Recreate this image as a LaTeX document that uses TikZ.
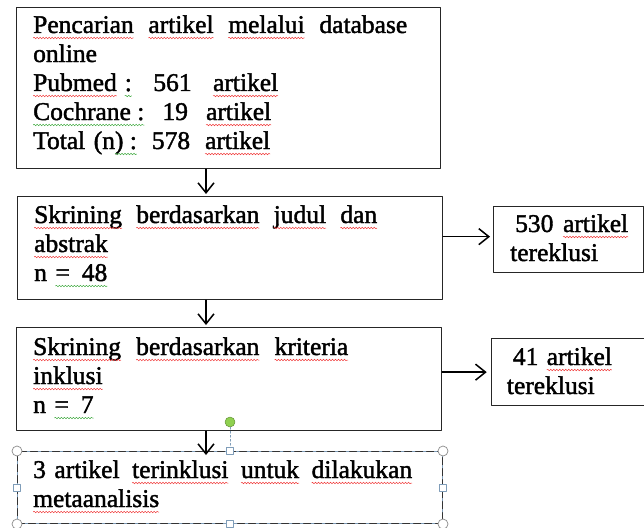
\documentclass[tikz,border=0pt]{standalone}
\usepackage{fontspec}
\setmainfont{Liberation Serif}[BoldFont=Liberation Serif,BoldFeatures={FakeBold=1.6}]
\usetikzlibrary{arrows.meta,decorations.pathmorphing}
\definecolor{bingkai}{HTML}{7F9DB9}
\definecolor{hijau}{HTML}{8FD050}
\definecolor{merah}{HTML}{F03C3C}
\definecolor{hijaueja}{HTML}{3FA93F}
% garis berombak di bawah kata
\newcommand{\garisbawah}[2]{\tikz[baseline=(kata.base)]{\node[inner sep=0pt,outer sep=0pt] (kata) {#2};
  \draw[overlay,#1,line width=0.5pt,decorate,decoration={snake,amplitude=0.8pt,segment length=3pt}] ([yshift=-5pt]kata.base west) -- ([yshift=-5pt]kata.base east);}}
\newcommand{\salah}[1]{\garisbawah{merah}{#1}}
\newcommand{\tata}[1]{\garisbawah{hijaueja}{#1}}
\tikzset{
  kotak/.style={draw=black!85,line width=1.3pt,inner sep=0pt,anchor=north west},
  pilih/.style={draw=black!80,line width=1pt,dash pattern=on 7pt off 4pt,preaction={draw=bingkai,line width=0.7pt,solid}},
  tulisan/.style={inner sep=0pt,anchor=base west,align=left,font=\fontsize{25.5}{29}\bfseries},
  panah/.style={-{Straight Barb[length=10pt,width=16pt]},line width=1.5pt},
  bulat/.style={circle,draw=black!45,fill=white,line width=0.7pt,minimum size=10pt,inner sep=0pt},
  persegi/.style={rectangle,draw=bingkai,fill=white,line width=0.7pt,minimum size=7pt,inner sep=0pt},
  putar/.style={circle,draw=hijau!70!black,fill=hijau,line width=0.5pt,minimum size=10pt,inner sep=0pt}
}
\begin{document}
\begin{tikzpicture}[line cap=round,line join=round,x=1pt,y=-1pt]
\useasboundingbox (0,0) rectangle (644,527);
% kotak-kotak
\node[kotak,minimum width=424,minimum height=161] (cari) at (16,7) {};
\node[kotak,minimum width=425,minimum height=103] (judul) at (17,196) {};
\node[kotak,minimum width=425,minimum height=103] (kriteria) at (16,327) {};
\node[kotak,pilih,minimum width=425,minimum height=72] (hasil) at (17,451) {};
\node[kotak,minimum width=150,minimum height=66] (eks1) at (493,206) {};
\node[kotak,minimum width=155,minimum height=67] (eks2) at (490.7,338) {};
% isi
\node[tulisan,text width=392pt] (tcari) at ([shift={(17,26)}]cari.north west)
  {\makebox[374pt][s]{\salah{Pencarian}\hfill\salah{artikel}\hfill\salah{melalui}\hfill database}\\
   online\\
   \makebox[245pt][s]{\salah{Pubmed}\hspace{8pt}\tata{:}\hfill 561\hfill\salah{artikel}}\\
   \makebox[238pt][s]{\tata{Cochrane :}\hfill 19\hfill\salah{artikel}}\\
   \makebox[237pt][s]{Total (n\tata{)\ :}\hfill 578\hfill\salah{artikel}}};
\node[tulisan,text width=392pt] (tjudul) at ([shift={(17,27)}]judul.north west)
  {\makebox[343pt][s]{\salah{Skrining}\hfill\salah{berdasarkan}\hfill\salah{judul}\hfill\salah{dan}}\\
   \salah{abstrak}\\
   n \tata{=\hspace{12pt}48}};
\node[tulisan,text width=392pt] (tkriteria) at ([shift={(17,28)}]kriteria.north west)
  {\makebox[315pt][s]{\salah{Skrining}\hfill\salah{berdasarkan}\hfill\salah{kriteria}}\\
   \salah{inklusi}\\
   n \tata{=\hspace{12pt}7}};
\node[tulisan,text width=392pt] (thasil) at ([shift={(16,27)}]hasil.north west)
  {\makebox[379pt][s]{3 artikel\hfill\salah{terinklusi}\hfill\salah{untuk}\hfill\salah{dilakukan}}\\
   \salah{metaanalisis}};
\node[tulisan,text width=125pt] (teks1) at ([shift={(17,26)}]eks1.north west)
  {\hspace*{5pt}\makebox[113pt][s]{530\hfill\salah{artikel}}\\ tereklusi};
\node[tulisan,text width=125pt] (teks2) at ([shift={(16,27)}]eks2.north west)
  {\hspace*{6pt}\makebox[99pt][s]{41\hfill\salah{artikel}}\\ tereklusi};
% panah
\coordinate (jalur) at (206,0);
\coordinate (a1) at ([yshift=3pt]eks1.west);
\draw[panah] (cari.south -| jalur) -- ([yshift=2pt]judul.north -| jalur);
\draw[panah] (judul.south -| jalur) -- ([yshift=2pt]kriteria.north -| jalur);
\draw[panah] (kriteria.south -| jalur) -- ([yshift=-4pt]hasil.north -| jalur);
\draw[panah] (judul.east |- a1) -- ([xshift=-3pt]a1);
\draw[panah] (kriteria.east |- eks2.west) -- ([xshift=-4pt]eks2.west);
% pegangan
\node[putar] (putar) at ([yshift=29pt]hasil.north) {};
\draw[bingkai,line width=0.6pt,dash pattern=on 2pt off 2pt] (putar) -- (hasil.north);
\foreach \a/\n in {north west/1,north east/2,south west/3,south east/4}
  \node[bulat] (pegangan\n) at (hasil.\a) {};
\foreach \a/\n in {north/5,south/6,west/7,east/8}
  \node[persegi] (pegangan\n) at (hasil.\a) {};
\end{tikzpicture}
\end{document}
